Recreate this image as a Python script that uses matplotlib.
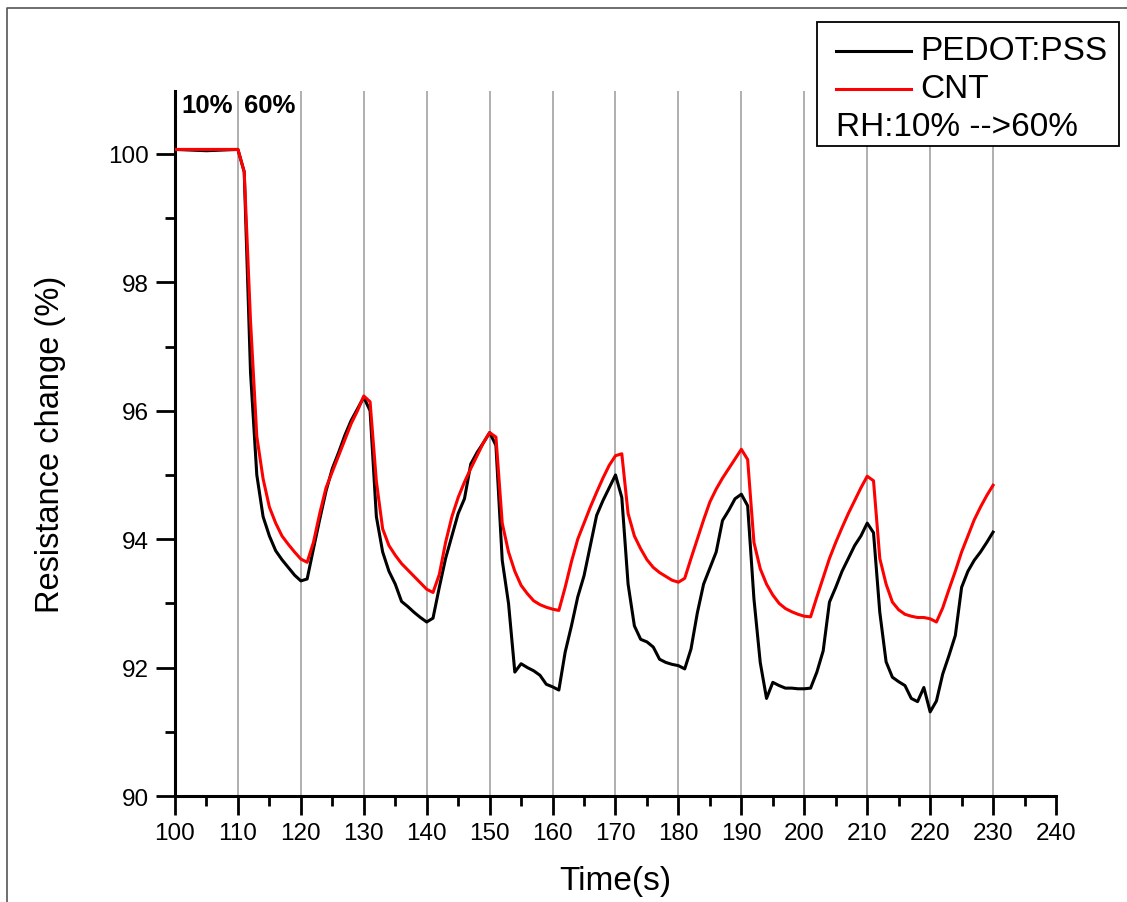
import matplotlib
matplotlib.use("Agg")
import matplotlib.pyplot as plt
from matplotlib.lines import Line2D
from matplotlib.patches import Rectangle
from matplotlib.ticker import MultipleLocator

plt.rcParams['font.family'] = ['Liberation Sans', 'DejaVu Sans']

time_s = [100, 105, 110] + list(range(111, 231))

cnt = [100.07, 100.07, 100.07,
       99.72, 97.4, 95.6, 94.94, 94.5, 94.25, 94.05, 93.92, 93.8, 93.69,
       93.64, 93.95, 94.4, 94.8, 95.05, 95.3, 95.55, 95.8, 96.0, 96.23,
       96.14, 94.9, 94.16, 93.9, 93.75, 93.62, 93.52, 93.42, 93.32, 93.22,
       93.17, 93.45, 93.95, 94.35, 94.65, 94.89, 95.1, 95.3, 95.5, 95.66,
       95.59, 94.25, 93.8, 93.5, 93.28, 93.15, 93.04, 92.98, 92.94, 92.91,
       92.89, 93.25, 93.65, 94.0, 94.25, 94.5, 94.73, 94.95, 95.15, 95.3,
       95.33, 94.4, 94.05, 93.85, 93.68, 93.56, 93.48, 93.42, 93.36, 93.33,
       93.39, 93.7, 94.0, 94.3, 94.58, 94.78, 94.95, 95.1, 95.25, 95.4,
       95.24, 93.95, 93.54, 93.3, 93.13, 93.0, 92.92, 92.87, 92.83, 92.8,
       92.79, 93.1, 93.4, 93.7, 93.95, 94.18, 94.4, 94.6, 94.8, 94.98,
       94.91, 93.7, 93.3, 93.02, 92.9, 92.83, 92.8, 92.78, 92.78, 92.76,
       92.71, 92.93, 93.22, 93.5, 93.8, 94.05, 94.3, 94.5, 94.68, 94.84]

pedot = [100.07, 100.05, 100.07,
         99.72, 96.6, 95.0, 94.35, 94.05, 93.82, 93.68, 93.56, 93.44, 93.35,
         93.38, 93.85, 94.31, 94.75, 95.1, 95.35, 95.62, 95.85, 96.03, 96.21,
         96.0, 94.35, 93.8, 93.5, 93.3, 93.03, 92.95, 92.86, 92.78, 92.71,
         92.77, 93.25, 93.7, 94.05, 94.4, 94.63, 95.17, 95.35, 95.5, 95.66,
         95.46, 93.67, 93.0, 91.93, 92.06, 92.0, 91.95, 91.88, 91.74, 91.7,
         91.65, 92.24, 92.65, 93.1, 93.43, 93.9, 94.37, 94.6, 94.8, 95.0,
         94.65, 93.3, 92.65, 92.44, 92.4, 92.32, 92.13, 92.08, 92.05, 92.03,
         91.98, 92.29, 92.85, 93.3, 93.55, 93.8, 94.29, 94.45, 94.63, 94.7,
         94.52, 93.07, 92.08, 91.52, 91.77, 91.72, 91.68, 91.68, 91.67, 91.67,
         91.68, 91.93, 92.26, 93.02, 93.25, 93.5, 93.7, 93.9, 94.05, 94.25,
         94.1, 92.86, 92.09, 91.85, 91.78, 91.72, 91.52, 91.47, 91.69, 91.31,
         91.48, 91.9, 92.19, 92.5, 93.25, 93.5, 93.67, 93.8, 93.95, 94.11]

switch_times = list(range(110, 231, 10))
series_labels = ["PEDOT:PSS", "CNT"]
series_colors = ["black", "#ff0000"]
rh_note = "RH:10% -->60%"
phase_labels = ["10%", "60%"]

W, H = 1127, 903
fig = plt.figure(figsize=(W / 100, H / 100), dpi=100)
ax = fig.add_axes([175 / W, 1 - 797 / H, (1056 - 175) / W, (797 - 92) / H])

for t in switch_times:
    ax.axvline(t, color="#9a9a9a", lw=1.1, zorder=1)

ax.plot(time_s, pedot, color=series_colors[0], lw=2.2, zorder=3, label=series_labels[0])
ax.plot(time_s, cnt, color=series_colors[1], lw=2.2, zorder=4, label=series_labels[1])

ax.set_xlim(100, 240)
ax.set_ylim(90, 100.98)
ax.xaxis.set_major_locator(MultipleLocator(10))
ax.xaxis.set_minor_locator(MultipleLocator(5))
ax.yaxis.set_major_locator(MultipleLocator(2))
ax.yaxis.set_minor_locator(MultipleLocator(1))
ax.tick_params(which="major", direction="out", length=14, width=2, labelsize=17.5, pad=5)
ax.tick_params(which="minor", direction="out", length=7, width=2)
for s in ["top", "right"]:
    ax.spines[s].set_visible(False)
for s in ["left", "bottom"]:
    ax.spines[s].set_linewidth(2.2)

ax.set_xlabel("Time(s)", fontsize=24, labelpad=15)
ax.set_ylabel("Resistance change (%)", fontsize=23.5, labelpad=30)

ax.text(101, 100.95, phase_labels[0], fontsize=18.5, fontweight="bold", va="top", ha="left")
ax.text(111, 100.95, phase_labels[1], fontsize=18.5, fontweight="bold", va="top", ha="left")

# legend box (drawn in figure pixel coordinates)
def fx(px):
    return px / W

def fy(py):
    return 1 - py / H

fig.add_artist(Rectangle((fx(817), fy(147)), fx(1119) - fx(817), fy(23) - fy(147),
                         transform=fig.transFigure, facecolor="white",
                         edgecolor="black", lw=1.3, zorder=5))
for i, (lab, col) in enumerate(zip(series_labels, series_colors)):
    yrow = 52 + 38 * i
    fig.add_artist(Line2D([fx(836), fx(911)], [fy(yrow), fy(yrow)],
                          transform=fig.transFigure, color=col, lw=2.2, zorder=6))
    fig.text(fx(920), fy(yrow), lab, fontsize=24, va="center", ha="left", zorder=6)
fig.text(fx(836), fy(128), rh_note, fontsize=24, va="center", ha="left", zorder=6)

# outer figure border (top and left)
fig.add_artist(Line2D([7 / W, 7 / W, 1.0], [0, 1 - 9 / H, 1 - 9 / H],
                      transform=fig.transFigure, color="#555555", lw=1.2))

fig.savefig("out.png", dpi=100)
